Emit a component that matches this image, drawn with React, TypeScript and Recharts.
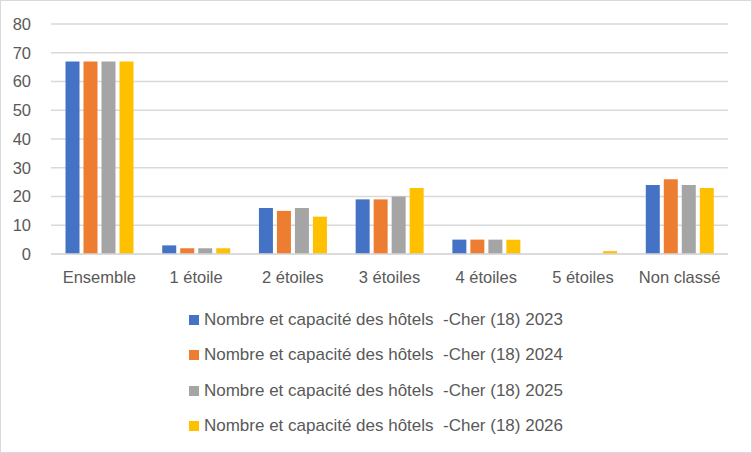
import React from 'react';
import { BarChart, Bar, XAxis, YAxis, CartesianGrid, Legend } from 'recharts';

const categories = ['Ensemble', '1 étoile', '2 étoiles', '3 étoiles', '4 étoiles', '5 étoiles', 'Non classé'];
const values2023 = [67, 3, 16, 19, 5, 0, 24];
const values2024 = [67, 2, 15, 19, 5, 0, 26];
const values2025 = [67, 2, 16, 20, 5, 0, 24];
const values2026 = [67, 2, 13, 23, 5, 1, 23];
const yTicks = [0, 10, 20, 30, 40, 50, 60, 70, 80];

const series = [
  { key: 'y2023', name: 'Nombre et capacité des hôtels  -Cher (18) 2023', color: '#4472C4' },
  { key: 'y2024', name: 'Nombre et capacité des hôtels  -Cher (18) 2024', color: '#ED7D31' },
  { key: 'y2025', name: 'Nombre et capacité des hôtels  -Cher (18) 2025', color: '#A5A5A5' },
  { key: 'y2026', name: 'Nombre et capacité des hôtels  -Cher (18) 2026', color: '#FFC000' },
];

const data = categories.map((name, i) => ({
  name,
  y2023: values2023[i],
  y2024: values2024[i],
  y2025: values2025[i],
  y2026: values2026[i],
}));

const FONT = '"Liberation Sans", Arial, sans-serif';
const TEXT = '#595959';

function LegendList() {
  return (
    <div style={{ display: 'flex', flexDirection: 'column', alignItems: 'center' }}>
      <div>
        {series.map((s) => (
          <div
            key={s.key}
            style={{ display: 'flex', alignItems: 'center', height: 35.5, fontFamily: FONT, fontSize: 17, color: TEXT }}
          >
            <span style={{ width: 10, height: 10, background: s.color, marginRight: 5, display: 'inline-block' }} />
            <span style={{ whiteSpace: 'pre' }}>{s.name}</span>
          </div>
        ))}
      </div>
    </div>
  );
}

export default function App() {
  return (
    <div
      style={{
        position: 'absolute',
        left: 0,
        top: 0,
        width: 750,
        height: 451,
        border: '1px solid #d9d9d9',
        background: '#fff',
      }}
    >
      <BarChart
        width={750}
        height={451}
        data={data}
        margin={{ top: 23, right: 23, bottom: 168, left: 0 }}
        barCategoryGap="15%"
        barGap={4}
      >
        <CartesianGrid vertical={false} stroke="#d9d9d9" strokeWidth={1.3} />
        <XAxis
          dataKey="name"
          axisLine={{ stroke: '#d9d9d9', strokeWidth: 1.3 }}
          tickLine={false}
          height={30}
          tick={{ fill: TEXT, fontSize: 16.5, fontFamily: FONT }}
          tickMargin={11}
          interval={0}
        />
        <YAxis
          domain={[0, 80]}
          ticks={yTicks}
          width={50}
          axisLine={false}
          tickLine={false}
          tick={{ fill: TEXT, fontSize: 16.5, fontFamily: FONT }}
          tickMargin={14}
        />
        {series.map((s) => (
          <Bar key={s.key} dataKey={s.key} name={s.name} fill={s.color} isAnimationActive={false} />
        ))}
        <Legend
          layout="vertical"
          align="center"
          verticalAlign="middle"
          wrapperStyle={{ top: 301, left: 0, width: 750 }}
          content={() => <LegendList />}
        />
      </BarChart>
    </div>
  );
}
